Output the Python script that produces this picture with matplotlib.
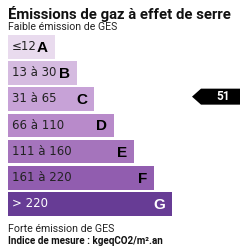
import matplotlib
matplotlib.use("Agg")
import matplotlib.pyplot as plt
from matplotlib.patches import Polygon

# classes GES
classes = ["A", "B", "C", "D", "E", "F", "G"]
ranges = ["≤12", "13 à 30", "31 à 65", "66 à 110", "111 à 160", "161 à 220", "> 220"]
bar_len = [47, 69, 86, 106, 126, 146, 164]
colors = ["#e9dbee", "#d5bbe0", "#c7a2d7", "#b88aca", "#a574bc", "#915daf", "#673c95"]
valeur = 51
classe_valeur = "C"

fig = plt.figure(figsize=(2.5, 2.5), dpi=100, facecolor="w")
ax = fig.add_axes([0, 0, 1, 1])
ax.set_xlim(0, 250)
ax.set_ylim(250, 0)
ax.axis("off")
r = fig.canvas.get_renderer()

def fit(t, width):
	# ajuste la taille de police pour une largeur en pixels
	bb = t.get_window_extent(renderer=r)
	t.set_fontsize(t.get_fontsize()*width/bb.width)

x0 = 8
top0 = 35
pitch = 26.2
h = 23.5

# taille du texte des plages d'apres "111 à 160"
tmp = ax.text(0, 0, "111 à 160", fontsize=8, family="DejaVu Sans")
fit(tmp, 59)
fs_range = tmp.get_fontsize()
tmp.remove()

for i, c in enumerate(classes):
	y = top0 + i*pitch
	yc = y + h/2
	ax.barh(yc, bar_len[i], height=h, left=x0, color=colors[i], linewidth=0)
	tc = "white" if c == "G" else "#222222"
	lc = "white" if c == "G" else "black"
	ax.text(x0 + 4, yc + 3.3, ranges[i], fontsize=fs_range, family="DejaVu Sans",
		color=tc, va="baseline", ha="left")
	ax.text(x0 + bar_len[i] - 7, yc + 5, c, fontsize=11, family="Liberation Sans",
		fontweight="bold", color=lc, va="baseline", ha="right")

# fleche valeur
k = classes.index(classe_valeur)
yc = top0 + k*pitch + h/2 - 2.5
ah = 16
ax.add_patch(Polygon([[192, yc], [201, yc - ah/2], [240, yc - ah/2], [240, yc + ah/2], [201, yc + ah/2]],
	closed=True, color="black", linewidth=0))
ax.text(223.5, yc + 3.8, str(valeur), fontsize=8.6, family="Roboto", fontweight="bold",
	color="white", va="baseline", ha="center")

t = ax.text(8, 18.5, "Émissions de gaz à effet de serre", fontsize=10, family="Roboto",
	fontweight="bold", color="#111111", va="baseline", ha="left")
fit(t, 224)
t = ax.text(8, 29.5, "Faible émission de GES", fontsize=8, family="Roboto",
	color="#222222", va="baseline", ha="left")
fit(t, 110)
t = ax.text(8, 232, "Forte émission de GES", fontsize=8, family="Roboto",
	color="#222222", va="baseline", ha="left")
fit(t, 107)
t = ax.text(8, 243.5, "Indice de mesure : kgeqCO2/m².an", fontsize=7, family="Roboto",
	fontweight="bold", color="#111111", va="baseline", ha="left")
fit(t, 155)

plt.savefig("out.png", dpi=100, facecolor="w")
